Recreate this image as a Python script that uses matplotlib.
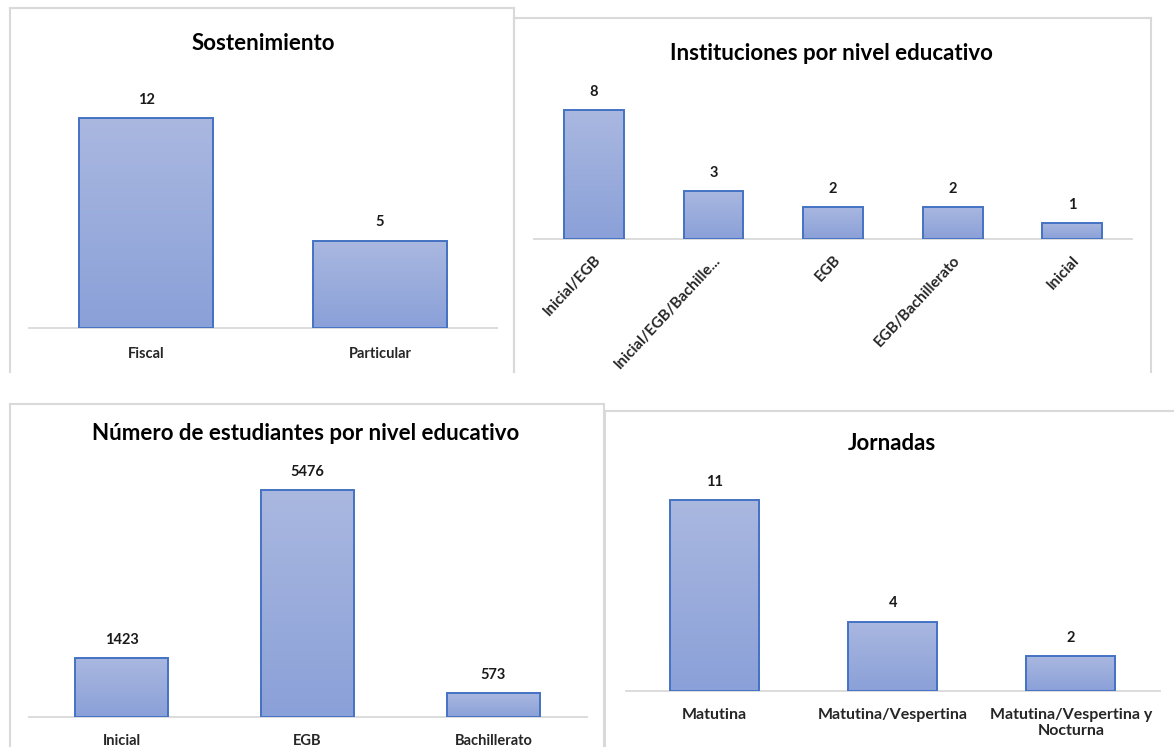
import numpy as np
import matplotlib
matplotlib.use("Agg")
import matplotlib.pyplot as plt
from matplotlib.colors import LinearSegmentedColormap
from matplotlib.lines import Line2D
from matplotlib.transforms import ScaledTranslation

plt.rcParams['font.family'] = ['Lato', 'DejaVu Sans']

# data
sost_labels = ["Fiscal", "Particular"]
sost_values = [12, 5]

inst_labels = ["Inicial/EGB", "Inicial/EGB/Bachille...", "EGB", "EGB/Bachillerato", "Inicial"]
inst_values = [8, 3, 2, 2, 1]

est_labels = ["Inicial", "EGB", "Bachillerato"]
est_values = [1423, 5476, 573]

jor_labels = ["Matutina", "Matutina/Vespertina", "Matutina/Vespertina y\nNocturna"]
jor_values = [11, 4, 2]

W, H = 1174, 747
fig = plt.figure(figsize=(W / 100, H / 100), dpi=100)
fig.patch.set_facecolor("white")

grad_cmap = LinearSegmentedColormap.from_list("xl", ["#8aa0d8", "#aab8e0"])
BORDER = "#d9d9d9"


def px_axes(x0, x1, ytop, ybase):
    # pixel box (from top-left) -> figure fraction
    return fig.add_axes([x0 / W, 1 - ybase / H, (x1 - x0) / W, (ybase - ytop) / H])


def panel_border(x0, x1, ytop, ybot):
    for xs, ys in [((x0, x0), (ytop, ybot)), ((x0, x1), (ytop, ytop)), ((x1, x1), (ytop, ybot))]:
        fig.add_artist(Line2D([x / W for x in xs], [1 - y / H for y in ys],
                              color=BORDER, lw=1.5, transform=fig.transFigure))


def draw_bars(ax, labels, values, width, ymax, fs_tick=10.5, rot=0, pad=8):
    xs = np.arange(len(labels))
    bars = ax.bar(xs, values, width=width, facecolor="none", edgecolor="#4472c4",
                  linewidth=1.4, zorder=3)
    for b in bars:
        x, y = b.get_xy()
        im = ax.imshow(np.linspace(0, 1, 256).reshape(-1, 1), extent=(x, x + b.get_width(), y, y + b.get_height()),
                       origin="lower", cmap=grad_cmap, aspect="auto", zorder=2)
        im.set_clip_path(b)
    ax.set_xlim(-0.5, len(labels) - 0.5)
    ax.set_ylim(0, ymax)
    ax.bar_label(bars, labels=[str(v) for v in values], padding=8, fontsize=10.5,
                 fontweight="bold", color="#1a1a1a")
    for s in ["top", "right", "left"]:
        ax.spines[s].set_visible(False)
    ax.spines["bottom"].set_color(BORDER)
    ax.spines["bottom"].set_linewidth(1.3)
    ax.set_yticks([])
    ax.set_xticks(xs)
    if rot:
        ax.set_xticklabels(labels, rotation=rot, ha="right", va="top", rotation_mode="anchor",
                           fontsize=fs_tick, fontweight="bold", color="#262626")
        shift = ScaledTranslation(6 / 100, 0, fig.dpi_scale_trans)
        for t in ax.get_xticklabels():
            t.set_transform(t.get_transform() + shift)
    else:
        ax.set_xticklabels(labels, fontsize=fs_tick, fontweight="bold", color="#262626")
    ax.tick_params(axis="x", length=0, pad=pad)
    ax.set_facecolor("none")


# panel 1
panel_border(10, 514, 8, 372)
ax1 = px_axes(29, 497, 90, 328)
draw_bars(ax1, sost_labels, sost_values, 0.573, 238 / 17.5, pad=14)
fig.text(263 / W, 1 - 43 / H, "Sostenimiento", ha="center", va="center", fontsize=16, fontweight="bold")

# panel 2
panel_border(514, 1151, 18, 372)
ax2 = px_axes(534, 1132, 80, 239)
draw_bars(ax2, inst_labels, inst_values, 0.5, 159 / 16.1, fs_tick=11, rot=47, pad=10)
fig.text(831 / W, 1 - 53 / H, "Instituciones por nivel educativo", ha="center", va="center",
         fontsize=16, fontweight="bold")

# panel 3
panel_border(10, 604, 404, 760)
ax3 = px_axes(28.5, 586.5, 460, 717)
draw_bars(ax3, est_labels, est_values, 0.5, 257 / (227 / 5476), pad=12)
fig.text(306 / W, 1 - 433 / H, "Número de estudiantes por nivel educativo", ha="center", va="center",
         fontsize=16, fontweight="bold")

# panel 4
panel_border(605, 1190, 411, 760)
ax4 = px_axes(625.5, 1160, 470, 691)
draw_bars(ax4, jor_labels, jor_values, 0.5, 221 / (191 / 11), fs_tick=11.5, pad=12)
fig.text(892 / W, 1 - 443 / H, "Jornadas", ha="center", va="center", fontsize=16, fontweight="bold")

fig.savefig("out.png", dpi=100, facecolor="white")
